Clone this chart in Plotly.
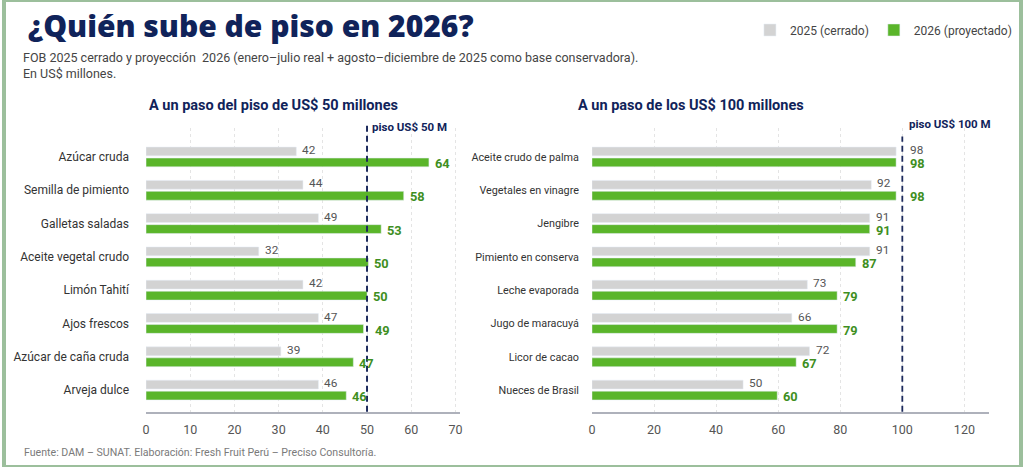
import plotly.graph_objects as go

# Left panel: "A un paso del piso de US$ 50 millones"
left_products = ["Azúcar cruda", "Semilla de pimiento", "Galletas saladas",
                 "Aceite vegetal crudo", "Limón Tahití", "Ajos frescos",
                 "Azúcar de caña cruda", "Arveja dulce"]
left_2025_bar = [34, 35.5, 39, 25.5, 35.5, 39, 30.5, 39]
left_2026_bar = [64, 58.3, 53.2, 50.3, 50, 49.2, 46.9, 45.3]
left_2025_lbl = [42, 44, 49, 32, 42, 47, 39, 46]
left_2026_lbl = [64, 58, 53, 50, 50, 49, 47, 46]
left_floor = 50

# Right panel: "A un paso de los US$ 100 millones"
right_products = ["Aceite crudo de palma", "Vegetales en vinagre", "Jengibre",
                  "Pimiento en conserva", "Leche evaporada", "Jugo de maracuyá",
                  "Licor de cacao", "Nueces de Brasil"]
right_2025_bar = [98, 90, 89.5, 89.5, 69.4, 64.4, 70.1, 48.7]
right_2026_bar = [98, 98, 89.5, 85, 79, 79, 65.8, 59.7]
right_2025_lbl = [98, 92, 91, 91, 73, 66, 72, 50]
right_2026_lbl = [98, 98, 91, 87, 79, 79, 67, 60]
right_floor = 100

left_ticks = [0, 10, 20, 30, 40, 50, 60, 70]
right_ticks = [0, 20, 40, 60, 80, 100, 120]

NAVY = "#10235a"
GRAY_BAR = "#d3d3d3"
GREEN_BAR = "#5ab52a"
GREEN_TXT = "#3f8f1f"
GRAY_TXT = "#555555"
FONT = "Roboto"

W, H = 1024, 467


def px_y(p):
    return 1 - p / H


fig = go.Figure()

panels = [
    (left_products, left_2025_bar, left_2026_bar, left_2025_lbl, left_2026_lbl,
     "x", "y", True, left_floor),
    (right_products, right_2025_bar, right_2026_bar, right_2025_lbl, right_2026_lbl,
     "x2", "y2", False, right_floor),
]
for prods, b25, b26, l25, l26, xa, ya, leg, floor in panels:
    fig.add_trace(go.Bar(
        y=prods, x=b25, orientation="h", name="2025 (cerrado)",
        marker_color=GRAY_BAR, xaxis=xa, yaxis=ya, showlegend=leg, hoverinfo="skip"))
    fig.add_trace(go.Bar(
        y=prods, x=b26, orientation="h", name="2026 (proyectado)",
        marker_color=GREEN_BAR, xaxis=xa, yaxis=ya, showlegend=leg, hoverinfo="skip"))

    # value labels next to the bar ends (pushed past the floor line when touching it)
    for bars, lbls, ysh, font in [
        (b25, l25, 6.8, dict(family=FONT, size=11.8, color=GRAY_TXT)),
        (b26, l26, -6.6, dict(family=FONT, size=12.8, color=GREEN_TXT, weight=700)),
    ]:
        for p, v, t in zip(prods, bars, lbls):
            near = 0 < floor - v < 3
            fig.add_annotation(
                xref=xa, yref=ya, x=floor if near else v, y=p,
                xshift=7 if near else 5, yshift=ysh, text=str(t), borderpad=0,
                showarrow=False, xanchor="left", yanchor="middle", font=font)

ydom = [px_y(411.7), px_y(128)]
axis_common = dict(showgrid=True, gridcolor="#e4e4e4", griddash="dot", gridwidth=1,
                   showline=True, linecolor="#aeb1bb", linewidth=1.5,
                   zeroline=False, ticks="", ticklabelstandoff=6,
                   tickfont=dict(family=FONT, size=12.5, color=GRAY_TXT))
ycommon = dict(domain=ydom, range=[7.65, -0.87], showgrid=False, showline=False,
               ticks="", zeroline=False)

fig.update_layout(
    width=W, height=H,
    margin=dict(l=0, r=0, t=0, b=0),
    paper_bgcolor="white", plot_bgcolor="white",
    barmode="group", bargap=0.34, bargroupgap=0.2,
    xaxis=dict(domain=[143 / W, 459 / W], range=[0, 71], tickvals=left_ticks, **axis_common),
    yaxis=dict(anchor="x", categoryorder="array", categoryarray=left_products,
               ticklabelstandoff=16,
               tickfont=dict(family=FONT, size=12, color="#333333"), **ycommon),
    xaxis2=dict(domain=[592 / W, 992 / W], range=[0, 128], tickvals=right_ticks,
                anchor="y2", **axis_common),
    yaxis2=dict(anchor="x2", categoryorder="array", categoryarray=right_products,
                ticklabelstandoff=12,
                tickfont=dict(family=FONT, size=10.8, color="#333333"), **ycommon),
    legend=dict(orientation="h", x=0.996, xanchor="right", y=px_y(30), yanchor="middle",
                font=dict(family=FONT, size=12, color="#444444"), traceorder="normal",
                bgcolor="rgba(0,0,0,0)"),
    showlegend=True,
)

# floor lines
for xa, yd, floor, top, lw in [("x", "y domain", left_floor, 1.02, 2),
                               ("x2", "y2 domain", right_floor, 0.97, 1.8)]:
    fig.add_shape(type="line", xref=xa, yref=yd, x0=floor, x1=floor, y0=0, y1=top,
                  line=dict(color="#1c2a5c", width=lw, dash="6px,4px"))

fig.add_annotation(xref="x", yref="paper", x=left_floor, xshift=3, y=px_y(127),
                   text="<b>piso US$ 50 M</b>", showarrow=False, xanchor="left",
                   yanchor="middle", font=dict(family=FONT, size=11.5, color=NAVY))
fig.add_annotation(xref="x2", yref="paper", x=right_floor, xshift=5, y=px_y(124),
                   text="<b>piso US$ 100 M</b>", showarrow=False, xanchor="left",
                   yanchor="middle", font=dict(family=FONT, size=11.5, color=NAVY))

# titles
fig.add_annotation(xref="paper", yref="paper", x=22 / W, y=px_y(26), xanchor="left",
                   yanchor="middle", showarrow=False, text="¿Quién sube de piso en 2026?",
                   font=dict(family="Open Sans", size=30, color=NAVY, weight=800))
fig.add_annotation(xref="paper", yref="paper", x=17 / W, y=px_y(57), xanchor="left",
                   yanchor="middle", showarrow=False,
                   text="FOB 2025 cerrado y proyección  2026 (enero–julio real + agosto–diciembre de 2025 como base conservadora).",
                   font=dict(family=FONT, size=12.5, color="#444444"))
fig.add_annotation(xref="paper", yref="paper", x=17 / W, y=px_y(74), xanchor="left",
                   yanchor="middle", showarrow=False, text="En US$ millones.",
                   font=dict(family=FONT, size=12.5, color="#444444"))
fig.add_annotation(xref="paper", yref="paper", x=271 / W, y=px_y(105), xanchor="center",
                   yanchor="middle", showarrow=False,
                   text="<b>A un paso del piso de US$ 50 millones</b>",
                   font=dict(family=FONT, size=14.5, color=NAVY))
fig.add_annotation(xref="paper", yref="paper", x=692 / W, y=px_y(105), xanchor="center",
                   yanchor="middle", showarrow=False,
                   text="<b>A un paso de los US$ 100 millones</b>",
                   font=dict(family=FONT, size=14.5, color=NAVY))
fig.add_annotation(xref="paper", yref="paper", x=18 / W, y=px_y(452), xanchor="left",
                   yanchor="middle", showarrow=False,
                   text="Fuente: DAM – SUNAT. Elaboración: Fresh Fruit Perú – Preciso Consultoría.",
                   font=dict(family=FONT, size=10.6, color="#7a7a7a"))

# frame
fig.add_shape(type="rect", xref="paper", yref="paper", x0=0, x1=1, y0=0, y1=1,
              line=dict(color="#9cbf9c", width=4), layer="above")

fig.write_html("out.html", config={"displayModeBar": False},
               post_script="document.body.style.margin = '0';")
